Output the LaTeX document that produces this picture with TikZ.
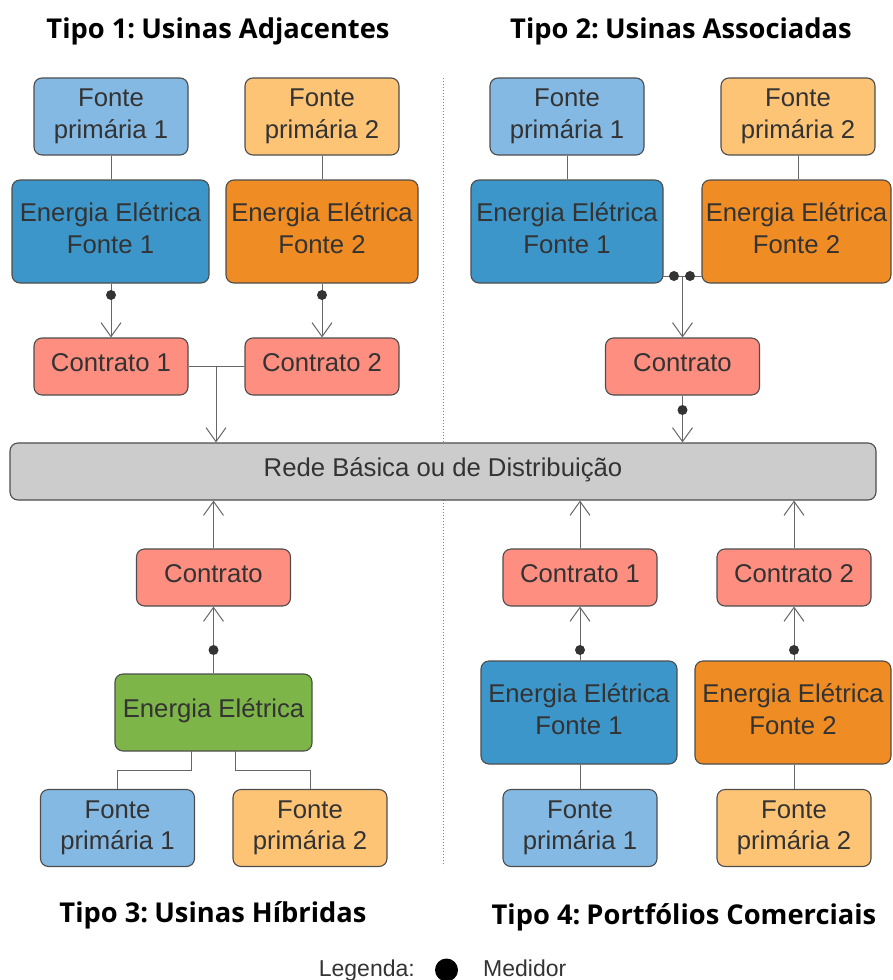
\documentclass[tikz,border=0pt]{standalone}
\usepackage{fontspec}
\setmainfont{Liberation Sans}
\newfontfamily\titlefont{Open Sans}
\usetikzlibrary{arrows.meta}
\definecolor{txt}{HTML}{333333}
\definecolor{bord}{HTML}{4D4D4D}
\definecolor{lblue}{HTML}{84B9E3}
\definecolor{lorange}{HTML}{FEC475}
\definecolor{dblue}{HTML}{3D96C9}
\definecolor{dorange}{HTML}{EF8C23}
\definecolor{salmon}{HTML}{FE8E80}
\definecolor{lgreen}{HTML}{7DB548}
\definecolor{rgray}{HTML}{CCCCCC}
\definecolor{wire}{HTML}{666666}
% text placement helpers (baselines measured from the box centre)
\newcommand\oneln[1]{\makebox[0pt]{\raisebox{-5.2pt}[0pt][0pt]{\makebox[0pt]{#1}}}}
\newcommand\twoln[2]{\makebox[0pt]{\raisebox{9.7pt}[0pt][0pt]{\makebox[0pt]{#1}}\raisebox{-21.5pt}[0pt][0pt]{\makebox[0pt]{#2}}}}
\begin{document}
\begin{tikzpicture}[x=1pt,y=-1pt,
  box/.style={draw=bord, line width=1.1pt, rounded corners=8pt, text=txt, inner sep=0pt,
    font=\fontsize{25.7}{31}\selectfont},
  fonte/.style={box, minimum width=154pt, minimum height=77pt},
  energia/.style={box, minimum height=103pt},
  contrato/.style={box, fill=salmon, minimum width=154pt, minimum height=57pt},
  meter/.style={circle, fill=txt, inner sep=0pt, minimum size=10pt},
  wline/.style={draw=wire, line width=1pt},
  arr/.style={wline, -{Straight Barb[length=14pt,width=20pt,line width=1pt]}},
  ttl/.style={font=\titlefont\bfseries\fontsize{27.3}{32}\selectfont, text=black, inner sep=0pt, anchor=base},
  sep/.style={draw=gray, line width=1pt, dotted}
]
\useasboundingbox (0,0) rectangle (892,980);

% titles
\node[ttl] (t1) at (218,38) {Tipo 1:\kern-1pt\ Usinas Adjacentes};
\node[ttl] (t2) at (681,38) {Tipo 2:\kern-1pt\ Usinas Associadas};
\node[ttl] (t3) at (213,922) {Tipo 3:\kern-1pt\ Usinas Híbridas};
\node[ttl] (t4) at (684,924) {Tipo 4:\kern-1pt\ Portfólios Comerciais};

% separators
\coordinate (s1) at (443,78);
\coordinate (s2) at (443,443);
\coordinate (s3) at (443,500);
\coordinate (s4) at (443,866);
\draw[sep] (s1) -- (s2);
\draw[sep] (s3) -- (s4);

% rede
\node[box, fill=rgray, minimum width=866pt, minimum height=57pt] (rede) at (443,471.5) {\oneln{Rede Básica ou de Distribuição}};

% ---------- Tipo 1
\node[fonte, fill=lblue] (f11) at (111,116.5) {\twoln{Fonte}{primária 1}};
\node[fonte, fill=lorange] (f12) at (322,116.5) {\twoln{Fonte}{primária 2}};
\node[energia, fill=dblue, minimum width=197pt] (e11) at (110.5,231.5) {\twoln{Energia Elétrica}{Fonte 1}};
\node[energia, fill=dorange, minimum width=192pt] (e12) at (322,231.5) {\twoln{Energia Elétrica}{Fonte 2}};
\node[contrato] (c11) at (111,366.5) {\oneln{Contrato 1}};
\node[contrato] (c12) at (322,366.5) {\oneln{Contrato 2}};
\draw[wline] (f11.south) -- (e11.north -| f11.south);
\draw[wline] (f12.south) -- (e12.north -| f12.south);
\draw[arr] (e11.south -| c11.north) -- (c11.north);
\draw[arr] (e12.south -| c12.north) -- (c12.north);
\node[meter] (m11) at (111,295) {};
\node[meter] (m12) at (322,295) {};
\coordinate (j1) at (216,366.5);
\draw[wline] (c11.east) -- (c12.west);
\draw[arr] (j1) -- (rede.north -| j1);

% ---------- Tipo 2
\node[fonte, fill=lblue] (f21) at (567,116.5) {\twoln{Fonte}{primária 1}};
\node[fonte, fill=lorange] (f22) at (798,116.5) {\twoln{Fonte}{primária 2}};
\node[energia, fill=dblue, minimum width=192pt] (e21) at (567,231.5) {\twoln{Energia Elétrica}{Fonte 1}};
\node[energia, fill=dorange, minimum width=189pt] (e22) at (796.5,231.5) {\twoln{Energia Elétrica}{Fonte 2}};
\node[contrato] (c2) at (682.5,366.5) {\oneln{Contrato}};
\draw[wline] (f21.south) -- (e21.north -| f21.south);
\draw[wline] (f22.south) -- (e22.north -| f22.south);
\coordinate (j2a) at (663,276);
\coordinate (j2b) at (702,276);
\coordinate (j2) at (682.5,276);
\draw[wline] (j2a) -- (j2b);
\draw[arr] (j2) -- (c2.north);
\node[meter] (m21) at (674,276) {};
\node[meter] (m22) at (690,276) {};
\draw[arr] (c2.south) -- (rede.north -| c2.south);
\node[meter] (m23) at (682.5,410) {};

% ---------- Tipo 3
\node[contrato] (c3) at (213.5,577.5) {\oneln{Contrato}};
\node[box, fill=lgreen, minimum width=197pt, minimum height=77pt] (e3) at (213.5,712.5) {\oneln{Energia Elétrica}};
\node[fonte, fill=lblue] (f31) at (117.5,828) {\twoln{Fonte}{primária 1}};
\node[fonte, fill=lorange] (f32) at (310,828) {\twoln{Fonte}{primária 2}};
\draw[arr] (c3.north) -- (rede.south -| c3.north);
\draw[arr] (e3.north) -- (c3.south);
\node[meter] (m3) at (213.5,650) {};
\coordinate (b31) at (191,751);
\coordinate (b32) at (235,751);
\draw[wline] (b31) -- (191,770) -| (f31.north);
\draw[wline] (b32) -- (235,770) -| (f32.north);

% ---------- Tipo 4
\node[contrato] (c41) at (580,577.5) {\oneln{Contrato 1}};
\node[contrato] (c42) at (794,577.5) {\oneln{Contrato 2}};
\node[energia, fill=dblue, minimum width=196pt] (e41) at (579,712.5) {\twoln{Energia Elétrica}{Fonte 1}};
\node[energia, fill=dorange, minimum width=196pt] (e42) at (793,712.5) {\twoln{Energia Elétrica}{Fonte 2}};
\node[fonte, fill=lblue] (f41) at (580,828) {\twoln{Fonte}{primária 1}};
\node[fonte, fill=lorange] (f42) at (794,828) {\twoln{Fonte}{primária 2}};
\draw[arr] (c41.north) -- (rede.south -| c41.north);
\draw[arr] (c42.north) -- (rede.south -| c42.north);
\draw[arr] (e41.north -| c41.south) -- (c41.south);
\draw[arr] (e42.north -| c42.south) -- (c42.south);
\node[meter] (m41) at (580,650) {};
\node[meter] (m42) at (794,650) {};
\draw[wline] (f41.north) -- (e41.south -| f41.north);
\draw[wline] (f42.north) -- (e42.south -| f42.north);

% legend
\node[font=\fontsize{23}{26}\selectfont, text=txt, anchor=base east, inner sep=0pt] (lg) at (415,976) {Legenda:};
\node[circle, fill=black, inner sep=0pt, minimum size=23pt] (ld) at (446.5,970) {};
\node[font=\fontsize{23}{26}\selectfont, text=txt, anchor=base west, inner sep=0pt] (lm) at (483,976) {Medidor};
\end{tikzpicture}
\end{document}
